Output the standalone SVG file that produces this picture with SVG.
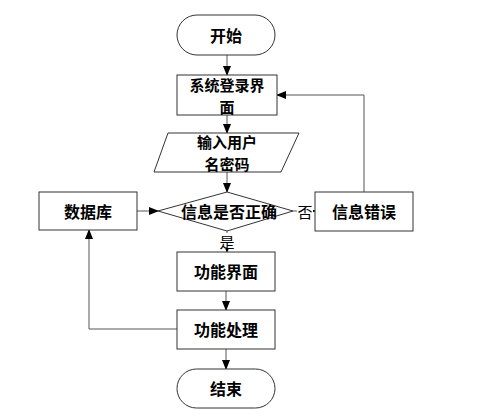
<svg xmlns="http://www.w3.org/2000/svg" width="491" height="420" viewBox="0 0 491 420">
<defs>
<marker id="ah" markerWidth="10" markerHeight="8" refX="9" refY="4" orient="auto" markerUnits="userSpaceOnUse">
<path d="M0,0 L10,4 L0,8 Z" fill="#000"/>
</marker>
<style>
.n{fill:#fff;stroke:#333;stroke-width:1}
.t{font-family:"Noto Sans CJK SC","Noto Sans CJK JP",sans-serif;font-size:16px;font-weight:bold;fill:#000;text-anchor:middle;dominant-baseline:central}
.t2{font-size:15px}
.l{font-family:"Noto Sans CJK SC",sans-serif;font-size:15px;fill:#000;text-anchor:middle;dominant-baseline:central}
.c{fill:none;stroke:#555;stroke-width:1}
</style>
</defs>
<rect width="491" height="420" fill="#fff"/>
<g id="connectors">
<path class="c" d="M227,55 V75" marker-end="url(#ah)"/>
<path class="c" d="M227,115 V133" marker-end="url(#ah)"/>
<path class="c" d="M227,172 V192" marker-end="url(#ah)"/>
<path class="c" d="M227,231 V252" marker-end="url(#ah)"/>
<path class="c" d="M226,291 V310" marker-end="url(#ah)"/>
<path class="c" d="M226,349 V369" marker-end="url(#ah)"/>
<path class="c" d="M137,211 H158" marker-end="url(#ah)"/>
<path class="c" d="M293,211 H315" marker-end="url(#ah)"/>
<path class="c" d="M364,192 V95 H277" marker-end="url(#ah)"/>
<path class="c" d="M177,329 H89 V230" marker-end="url(#ah)"/>
<rect x="297" y="202" width="16" height="18" fill="#fff"/>
<text class="l" x="305" y="211">否</text>
<rect x="219" y="233" width="16" height="16" fill="#fff"/>
<text class="l" x="227" y="241">是</text>
</g>
<g id="start">
<rect class="n" x="177" y="15" width="98" height="40" rx="20" ry="20"/>
<text class="t" x="226" y="35">开始</text>
</g>
<g id="login">
<rect class="n" x="177" y="75" width="100" height="40"/>
<text class="t t2" x="227" y="84">系统登录界</text>
<text class="t t2" x="227" y="106">面</text>
</g>
<g id="input">
<polygon class="n" points="168,133 299,133 281,172 154,172"/>
<text class="t t2" x="227" y="141.5">输入用户</text>
<text class="t t2" x="227" y="163.5">名密码</text>
</g>
<g id="check">
<polygon class="n" points="227,192 293,211 227,231 158,211"/>
<text class="t" x="229" y="211">信息是否正确</text>
</g>
<g id="database">
<rect class="n" x="39" y="192" width="98" height="38"/>
<text class="t" x="88" y="211">数据库</text>
</g>
<g id="error">
<rect class="n" x="315" y="192" width="98" height="39"/>
<text class="t" x="364" y="211">信息错误</text>
</g>
<g id="func-ui">
<rect class="n" x="177" y="252" width="98" height="39"/>
<text class="t" x="226" y="271">功能界面</text>
</g>
<g id="func-proc">
<rect class="n" x="177" y="310" width="98" height="39"/>
<text class="t" x="226" y="329">功能处理</text>
</g>
<g id="end">
<rect class="n" x="177" y="369" width="98" height="39" rx="19.5" ry="19.5"/>
<text class="t" x="226" y="388">结束</text>
</g>
</svg>
